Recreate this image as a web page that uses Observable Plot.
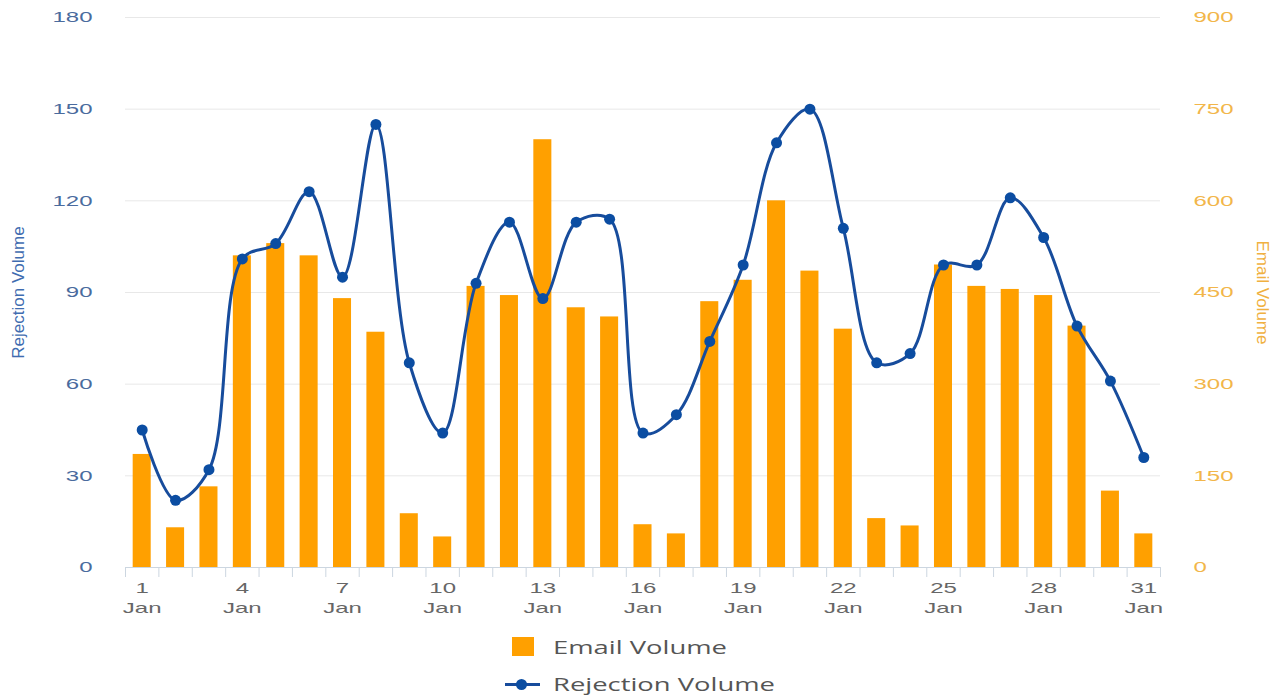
<!DOCTYPE html>
<html><head><meta charset="utf-8">
<script src="https://cdn.jsdelivr.net/npm/d3@7"></script>
<script src="https://cdn.jsdelivr.net/npm/@observablehq/plot@0.6"></script>
<style>
body{margin:0;background:#fff;}
#legend{position:relative;height:76px;width:1286px;font-family:"Open Sans",sans-serif;font-size:18px;color:#555}
#legend .it{position:absolute;left:553px;line-height:20px;white-space:nowrap;transform-origin:0 50%}
</style></head><body><div id="chart"></div><div id="legend"></div>
<script>
const days = [1,2,3,4,5,6,7,8,9,10,11,12,13,14,15,16,17,18,19,20,21,22,23,24,25,26,27,28,29,30,31];
const rejection = [45,22,32,101,106,123,95,145,67,44,93,113,88,113,114,44,50,74,99,139,150,111,67,70,99,99,121,108,79,61,36];
const email = [185,65,132,510,530,510,440,385,88,50,460,445,700,425,410,70,55,435,470,600,485,390,80,68,495,460,455,445,395,125,55];
const leftTicks = [0,30,60,90,120,150,180];
const rightMax = 900;
const leftMax = 180;
const labelDays = [1,4,7,10,13,16,19,22,25,28,31];
const monthLabel = "Jan";
const seriesNames = ["Email Volume","Rejection Volume"];
const orange = "#FFA000", blue = "#174c9c";

const ratio = rightMax / leftMax;
const data = days.map((d,i)=>({day:d, rejection:rejection[i], email:email[i]}));
const bounds = days.map(d=>d-0.5).concat([days[days.length-1]+0.5]);

const chart = Plot.plot({
  width:1286, height:620,
  marginLeft:125, marginRight:126, marginTop:17, marginBottom:53,
  x:{type:"linear", domain:[0.5,31.5], label:null},
  y:{domain:[0,leftMax], label:null},
  style:{fontFamily:"'Liberation Sans', Arial, sans-serif", fontSize:"15px", background:"#fff"},
  marks:[
    Plot.gridY(leftTicks, {stroke:"#e8e8e8", strokeOpacity:1}),
    Plot.rect(data, {x1:d=>d.day-0.27, x2:d=>d.day+0.27, y1:0, y2:d=>d.email/ratio, fill:orange}),
    Plot.ruleY([0], {stroke:"#ccd6e0"}),
    Plot.axisX({ticks:bounds, tickFormat:()=>"", tickSize:10, stroke:"#ccd6e0"}),
    Plot.axisX({ticks:labelDays, tickSize:0, tickPadding:11, tickFormat:d=>`${d}\n${monthLabel}`, lineHeight:1.35, fill:"#666", color:"#666"}),
    Plot.axisY(leftTicks, {anchor:"left", tickSize:0, tickPadding:33, fill:"#4a6b9e", color:"#4a6b9e", label:null}),
    Plot.axisY(leftTicks, {anchor:"right", tickSize:0, tickPadding:33, tickFormat:d=>d*ratio, fill:"#f2b64a", color:"#f2b64a", label:null}),
    Plot.text(["Rejection Volume"], {frameAnchor:"left", textAnchor:"middle", rotate:-90, dx:-107, fill:"#3f6cb0", fontSize:17}),
    Plot.text(["Email Volume"], {frameAnchor:"right", textAnchor:"middle", rotate:90, dx:102, fill:"#f0b040", fontSize:17}),
    Plot.line(data, {x:"day", y:"rejection", curve:"catmull-rom", stroke:blue, strokeWidth:3}),
    Plot.dot(data, {x:"day", y:"rejection", r:5.5, fill:"#0b4da2"})
  ]
});
document.getElementById("chart").append(chart);
// the reference's lettering is stretched horizontally
chart.querySelectorAll('g[aria-label$="tick label"] text').forEach(t => {
  t.setAttribute("transform", (t.getAttribute("transform") || "") + " scale(1.6,1)");
});

const lg = document.getElementById("legend");
lg.innerHTML = `
<div style="position:absolute;left:512px;top:17px;width:22px;height:19px;background:${orange}"></div>
<div class="it" style="top:17px">${seriesNames[0]}</div>
<div style="position:absolute;left:505px;top:63px;width:35px;height:3px;background:${blue}"></div>
<div style="position:absolute;left:516px;top:59px;width:11px;height:11px;border-radius:50%;background:#0b4da2"></div>
<div class="it" style="top:54px">${seriesNames[1]}</div>`;
const items = lg.querySelectorAll(".it");
const w0 = items[0].getBoundingClientRect().width;
const sx = 174 / w0;
items.forEach(el => el.style.transform = `scaleX(${sx})`);
</script></body></html>
